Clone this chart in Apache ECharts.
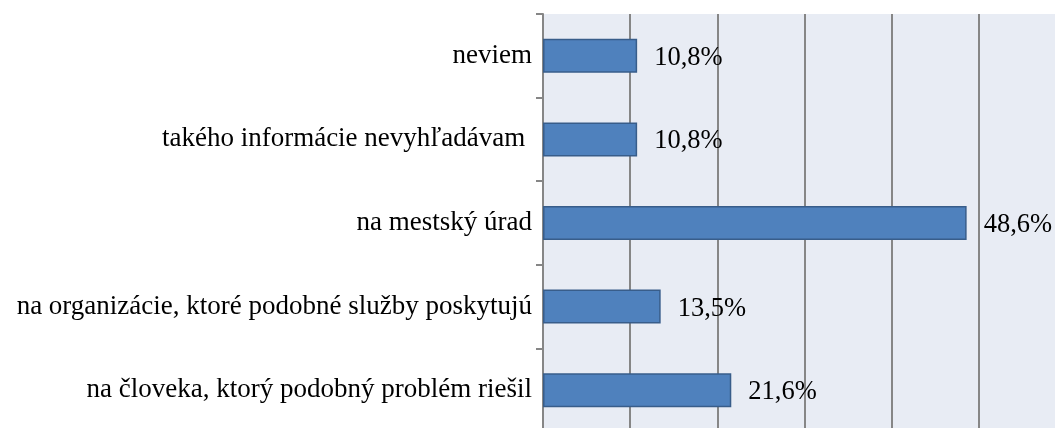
<!DOCTYPE html>
<html>
<head>
<meta charset="utf-8">
<script src="https://cdn.jsdelivr.net/npm/echarts@6/dist/echarts.min.js"></script>
<style>
  html, body { margin: 0; padding: 0; background: #fff; overflow: hidden; }
  /* the original plot runs a little past the right and bottom edges */
  #chart { width: 1066px; height: 432px; }
</style>
</head>
<body>
<div id="chart"></div>
<script>
// categories, bottom to top
const categories = [
  'na človeka, ktorý podobný problém riešil',
  'na organizácie, ktoré podobné služby poskytujú',
  'na mestský úrad',
  'takého informácie nevyhľadávam ',
  'neviem'
];
const values = [21.6, 13.5, 48.6, 10.8, 10.8];

const chart = echarts.init(document.getElementById('chart'));

chart.setOption({
  animation: false,
  grid: { left: 543, right: 0, top: 14, bottom: 0, containLabel: false,
    show: true, backgroundColor: '#e8ecf4', borderWidth: 0 },
  xAxis: {
    type: 'value', min: 0, max: 60, interval: 10,
    axisLine: { show: false },
    axisTick: { show: false },
    axisLabel: { show: false },
    splitLine: { show: true, lineStyle: { color: '#868686', width: 2 } }
  },
  yAxis: {
    type: 'category',
    data: categories,
    axisLine: { show: true, lineStyle: { color: '#868686', width: 2 } },
    axisTick: { show: true, length: 7, lineStyle: { color: '#868686', width: 2 } },
    axisLabel: { margin: 11, padding: [4, 0, 0, 0], fontFamily: 'Liberation Serif', fontSize: 27, color: '#000' }
  },
  series: [{
    type: 'bar',
    data: values,
    barWidth: 34,
    itemStyle: { color: '#4f81bd', borderColor: '#385d8a', borderWidth: 1.5 },
    label: {
      show: true, position: 'right', distance: 17, offset: [0, 2],
      fontFamily: 'Liberation Serif', fontSize: 26.5, color: '#000',
      formatter: p => p.value.toFixed(1).replace('.', ',') + '%'
    }
  }]
});
</script>
</body>
</html>
